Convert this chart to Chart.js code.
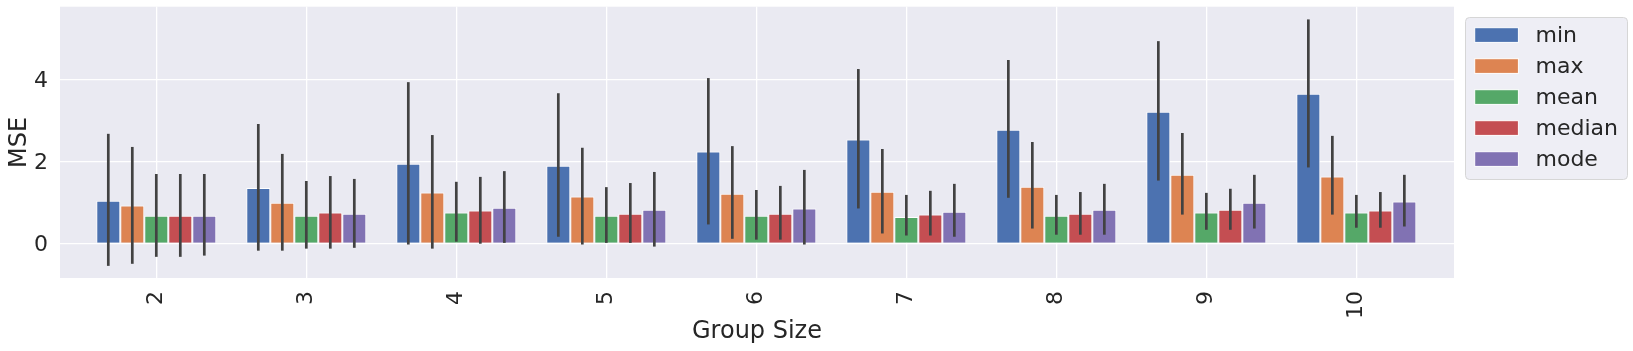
<!DOCTYPE html>
<html>
<head>
<meta charset="utf-8">
<script src="https://cdn.jsdelivr.net/npm/chart.js@4.4.1/dist/chart.umd.min.js"></script>
<style>
  html, body { margin: 0; padding: 0; background: #ffffff; }
  .wrapper { width: 1633px; height: 351px; position: relative; }
</style>
</head>
<body>
<div class="wrapper">
  <canvas id="mseChart"></canvas>
</div>
<script>
// Kategoriler ve seriler
const categories = ['2', '3', '4', '5', '6', '7', '8', '9', '10'];
const seriesNames = ['min', 'max', 'mean', 'median', 'mode'];
const seriesColors = ['#4C72B0', '#DD8452', '#55A868', '#C44E52', '#8172B3'];
const yTicks = [0, 2, 4];

// Bar yükseklikleri
const minVals    = [1.04, 1.35, 1.94, 1.89, 2.24, 2.53, 2.77, 3.21, 3.65];
const maxVals    = [0.92, 0.99, 1.24, 1.14, 1.21, 1.26, 1.38, 1.67, 1.63];
const meanVals   = [0.67, 0.67, 0.75, 0.67, 0.67, 0.64, 0.67, 0.75, 0.75];
const medianVals = [0.67, 0.75, 0.80, 0.72, 0.72, 0.70, 0.72, 0.82, 0.80];
const modeVals   = [0.67, 0.72, 0.87, 0.82, 0.85, 0.77, 0.82, 0.99, 1.02];

// Hata çubukları (alt / üst)
const minLo    = [-0.55, -0.18, -0.03, 0.16, 0.46, 0.85, 1.11, 1.53, 1.85];
const minHi    = [2.67, 2.91, 3.93, 3.66, 4.03, 4.25, 4.47, 4.93, 5.46];
const maxLo    = [-0.50, -0.18, -0.13, -0.03, 0.11, 0.24, 0.36, 0.70, 0.70];
const maxHi    = [2.35, 2.18, 2.64, 2.33, 2.37, 2.30, 2.47, 2.69, 2.62];
const meanLo   = [-0.33, -0.13, 0.04, 0.01, 0.09, 0.19, 0.21, 0.33, 0.38];
const meanHi   = [1.69, 1.52, 1.50, 1.37, 1.30, 1.18, 1.18, 1.23, 1.18];
const medianLo = [-0.33, -0.13, -0.01, 0.01, 0.09, 0.19, 0.21, 0.33, 0.38];
const medianHi = [1.69, 1.64, 1.62, 1.47, 1.40, 1.28, 1.25, 1.33, 1.25];
const modeLo   = [-0.30, -0.11, 0.01, -0.08, -0.03, 0.16, 0.21, 0.36, 0.41];
const modeHi   = [1.69, 1.57, 1.76, 1.74, 1.79, 1.45, 1.45, 1.67, 1.67];

const seriesValues = [minVals, maxVals, meanVals, medianVals, modeVals];
const seriesLo = [minLo, maxLo, meanLo, medianLo, modeLo];
const seriesHi = [minHi, maxHi, meanHi, medianHi, modeHi];

const textColor = '#262626';
const fontFamily = "'DejaVu Sans', sans-serif";

// Grafik alanının arka planı (seaborn darkgrid)
const plotBackground = {
  id: 'plotBackground',
  beforeDraw(chart) {
    const { ctx, chartArea } = chart;
    ctx.save();
    ctx.fillStyle = '#EAEAF2';
    ctx.fillRect(chartArea.left, chartArea.top, chartArea.right - chartArea.left, chartArea.bottom - chartArea.top);
    ctx.restore();
  }
};

// Hata çubuklarını bar merkezlerine çiz
const errorBars = {
  id: 'errorBars',
  afterDatasetsDraw(chart) {
    const { ctx } = chart;
    const yScale = chart.scales.y;
    ctx.save();
    ctx.strokeStyle = '#424242';
    ctx.lineWidth = 2.7;
    chart.data.datasets.forEach((ds, di) => {
      const meta = chart.getDatasetMeta(di);
      meta.data.forEach((bar, i) => {
        ctx.beginPath();
        ctx.moveTo(bar.x, yScale.getPixelForValue(seriesLo[di][i]));
        ctx.lineTo(bar.x, yScale.getPixelForValue(seriesHi[di][i]));
        ctx.stroke();
      });
    });
    ctx.restore();
  }
};

// Sağ üstteki çerçeveli lejant
const boxLegend = {
  id: 'boxLegend',
  afterDraw(chart) {
    const { ctx } = chart;
    const x = 1465.5, y = 17.5, w = 162, h = 162, r = 4;
    ctx.save();
    ctx.beginPath();
    ctx.roundRect(x, y, w, h, r);
    ctx.fillStyle = '#EEEEF5';
    ctx.fill();
    ctx.strokeStyle = '#D6D6D6';
    ctx.lineWidth = 1;
    ctx.stroke();

    ctx.font = `22px ${fontFamily}`;
    ctx.textBaseline = 'middle';
    ctx.textAlign = 'left';
    chart.data.datasets.forEach((ds, i) => {
      const rowY = 35 + i * 31;
      ctx.fillStyle = ds.backgroundColor;
      ctx.fillRect(1474.7, rowY - 7.3, 43.7, 14.7);
      ctx.strokeStyle = '#ffffff';
      ctx.strokeRect(1474.7, rowY - 7.3, 43.7, 14.7);
      ctx.fillStyle = textColor;
      ctx.fillText(ds.label, 1535.5, rowY + 1);
    });
    ctx.restore();
  }
};

document.addEventListener('DOMContentLoaded', () => {
  const ctx = document.getElementById('mseChart').getContext('2d');

  const datasets = seriesNames.map((name, s) => ({
    label: name,
    data: seriesValues[s].map((v, i) => ({ x: i, y: v })),
    backgroundColor: seriesColors[s],
    borderColor: '#ffffff',
    borderWidth: 1,
    categoryPercentage: 0.8,
    barPercentage: 1.0
  }));

  new Chart(ctx, {
    type: 'bar',
    data: { datasets: datasets },
    options: {
      responsive: true,
      maintainAspectRatio: false,
      animation: false,
      events: [],
      layout: { padding: { top: 6.7, right: 179, left: 0, bottom: 0 } },
      plugins: {
        legend: { display: false },
        tooltip: { enabled: false }
      },
      scales: {
        x: {
          type: 'linear',
          min: -0.642,
          max: 8.651,
          offset: false,
          afterBuildTicks: scale => {
            scale.ticks = categories.map((c, i) => ({ value: i }));
          },
          afterFit: scale => {
            scale.height = 73;
            scale.paddingLeft = 0;
            scale.paddingRight = 0;
          },
          ticks: {
            callback: value => categories[value],
            autoSkip: false,
            minRotation: 90,
            maxRotation: 90,
            padding: 13,
            color: textColor,
            font: { family: fontFamily, size: 22 }
          },
          grid: { color: '#ffffff', lineWidth: 1.3, drawTicks: false, offset: false },
          border: { display: false },
          title: {
            display: true,
            text: 'Group Size',
            color: textColor,
            font: { family: fontFamily, size: 24 },
            padding: { top: 0, bottom: 5 }
          }
        },
        y: {
          min: -0.846,
          max: 5.77,
          afterBuildTicks: scale => {
            scale.ticks = yTicks.map(v => ({ value: v }));
          },
          afterFit: scale => {
            scale.width = 60;
            scale.paddingTop = 0;
            scale.paddingBottom = 0;
          },
          ticks: {
            padding: 12,
            labelOffset: 2,
            color: textColor,
            font: { family: fontFamily, size: 22 }
          },
          grid: { color: '#ffffff', lineWidth: 1.3, drawTicks: false },
          border: { display: false },
          title: {
            display: true,
            text: 'MSE',
            color: textColor,
            font: { family: fontFamily, size: 24 },
            padding: { top: 5, bottom: 0 }
          }
        }
      }
    },
    plugins: [plotBackground, errorBars, boxLegend]
  });
});
</script>
</body>
</html>
